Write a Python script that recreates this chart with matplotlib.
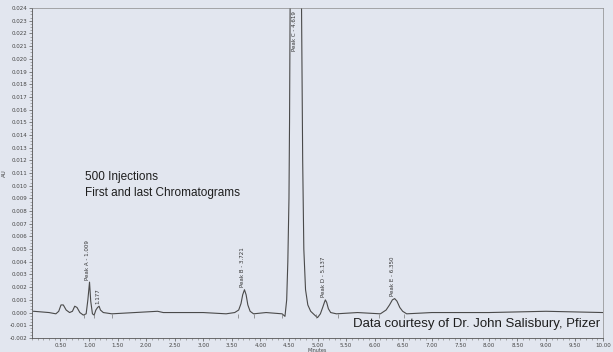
import matplotlib.pyplot as plt
from matplotlib.ticker import MultipleLocator, FormatStrFormatter

# trace of the chromatogram (minutes, AU), read point by point
time_min = [0.03, 0.30, 0.42, 0.47, 0.51, 0.55, 0.60, 0.66, 0.71, 0.75, 0.79, 0.84,
            0.90, 0.95, 0.98, 1.009, 1.03, 1.06, 1.09, 1.12, 1.15, 1.177, 1.20, 1.25,
            1.40, 1.80, 2.20, 2.30, 2.60, 3.00, 3.40, 3.55, 3.62, 3.66, 3.69, 3.721,
            3.75, 3.78, 3.82, 3.88, 4.10, 4.38, 4.43, 4.46, 4.48, 4.50, 4.51, 4.52,
            4.55, 4.619, 4.69, 4.72, 4.74, 4.76, 4.79, 4.83, 4.88, 4.95, 5.00, 5.05,
            5.09, 5.12, 5.137, 5.16, 5.19, 5.23, 5.33, 5.70, 6.10, 6.20, 6.26, 6.31,
            6.350, 6.39, 6.44, 6.49, 6.56, 7.00, 8.00, 9.00, 10.00]
absorb = [0.0001, 0.0000, -0.0001, 0.0001, 0.0006, 0.0006, 0.0002, 0.0000, 0.0001, 0.0005, 0.0004, 0.0000,
          -0.0002, -0.0001, 0.0010, 0.0024, 0.0009, -0.0001, -0.0002, 0.0002, 0.0004, 0.0005, 0.0002, 0.0000,
          -0.0001, 0.0000, 0.0001, 0.0000, 0.0000, 0.0000, -0.0001, 0.0000, 0.0002, 0.0007, 0.0014, 0.0018,
          0.0014, 0.0006, 0.0001, -0.0001, 0.0000, -0.0001, -0.0003, 0.0010, 0.0040, 0.0090, 0.0150, 0.0240,
          0.0600, 0.1000, 0.0600, 0.0240, 0.0120, 0.0050, 0.0018, 0.0006, 0.0001, -0.0002, -0.0004, -0.0001,
          0.0004, 0.0008, 0.0010, 0.0008, 0.0003, 0.0000, -0.0001, 0.0000, -0.0001, 0.0002, 0.0006, 0.0010,
          0.0011, 0.0009, 0.0004, 0.0001, -0.0001, 0.0000, 0.0000, 0.0001, 0.0000]

# named peaks
peak_names = ["Peak A - 1.009", "1.177", "Peak B - 3.721", "Peak D - 5.137", "Peak E - 6.350"]
peak_times = [1.009, 1.177, 3.721, 5.137, 6.350]
peak_heights = [0.0024, 0.0005, 0.0018, 0.0010, 0.0011]
big_peak_name = "Peak C - 4.619"
big_peak_time = 4.619

# integration start/stop marks on the baseline
mark_times = [0.91, 1.09, 1.40, 3.61, 3.89, 4.37, 4.98, 5.35, 6.07, 6.52]

# labelled minutes on the time axis
x_ticks = [0.5, 1.0, 1.5, 2.0, 2.5, 3.0, 3.5, 4.0, 4.5, 5.0,
           5.5, 6.0, 6.5, 7.0, 7.5, 8.0, 8.5, 9.0, 9.5, 10.0]

bg = "#e2e6ef"
fig = plt.figure(figsize=(6.13, 3.52), dpi=100, facecolor=bg)
ax = fig.add_axes([0.052, 0.040, 0.932, 0.937], facecolor=bg)

ax.plot(time_min, absorb, color="#4a4a4a", lw=0.8)
ax.plot(mark_times, [-0.0003] * len(mark_times), ls="none", marker="|",
        ms=2.5, mew=0.5, color="#777777")

for name, t, h in zip(peak_names, peak_times, peak_heights):
    ax.text(t - 0.03, h + 0.0002, name, rotation=90, ha="center", va="bottom",
            fontsize=4, color="#333333")
ax.text(big_peak_time - 0.02, 0.0238, big_peak_name, rotation=90, ha="center",
        va="top", fontsize=4, color="#333333")

ax.set_xticks(x_ticks)
ax.xaxis.set_minor_locator(MultipleLocator(0.1))
ax.yaxis.set_major_locator(MultipleLocator(0.001))
ax.yaxis.set_minor_locator(MultipleLocator(0.00025))
ax.xaxis.set_major_formatter(FormatStrFormatter("%.2f"))
ax.yaxis.set_major_formatter(FormatStrFormatter("%.3f"))
ax.set_xlim(0, 10.0)
ax.set_ylim(-0.002, 0.024)
ax.tick_params(which="major", labelsize=4, length=2.5, width=0.5, pad=1,
               colors="#555555", labelcolor="#444444")
ax.tick_params(which="minor", length=1.3, width=0.4, colors="#777777")

for side in ["left", "bottom"]:
    ax.spines[side].set_color("#555555")
    ax.spines[side].set_linewidth(0.6)
for side in ["top", "right"]:
    ax.spines[side].set_color("#8a8a8a")
    ax.spines[side].set_linewidth(0.5)

ax.set_ylabel("AU", fontsize=4, color="#444444", labelpad=2)
ax.set_xlabel("Minutes", fontsize=3.5, color="#444444", labelpad=0)

font = ["Liberation Sans", "DejaVu Sans"]
ax.text(0.093, 0.48, "500 Injections", transform=ax.transAxes, fontsize=8.5,
        family=font, color="#1e1e1e")
ax.text(0.093, 0.43, "First and last Chromatograms", transform=ax.transAxes,
        fontsize=8.5, family=font, color="#1e1e1e")
ax.text(0.995, 0.025, "Data courtesy of Dr. John Salisbury, Pfizer",
        transform=ax.transAxes, ha="right", va="bottom", fontsize=9.5,
        family=font, color="#1e1e1e")

fig.savefig("out.png", dpi=100, facecolor=bg)
